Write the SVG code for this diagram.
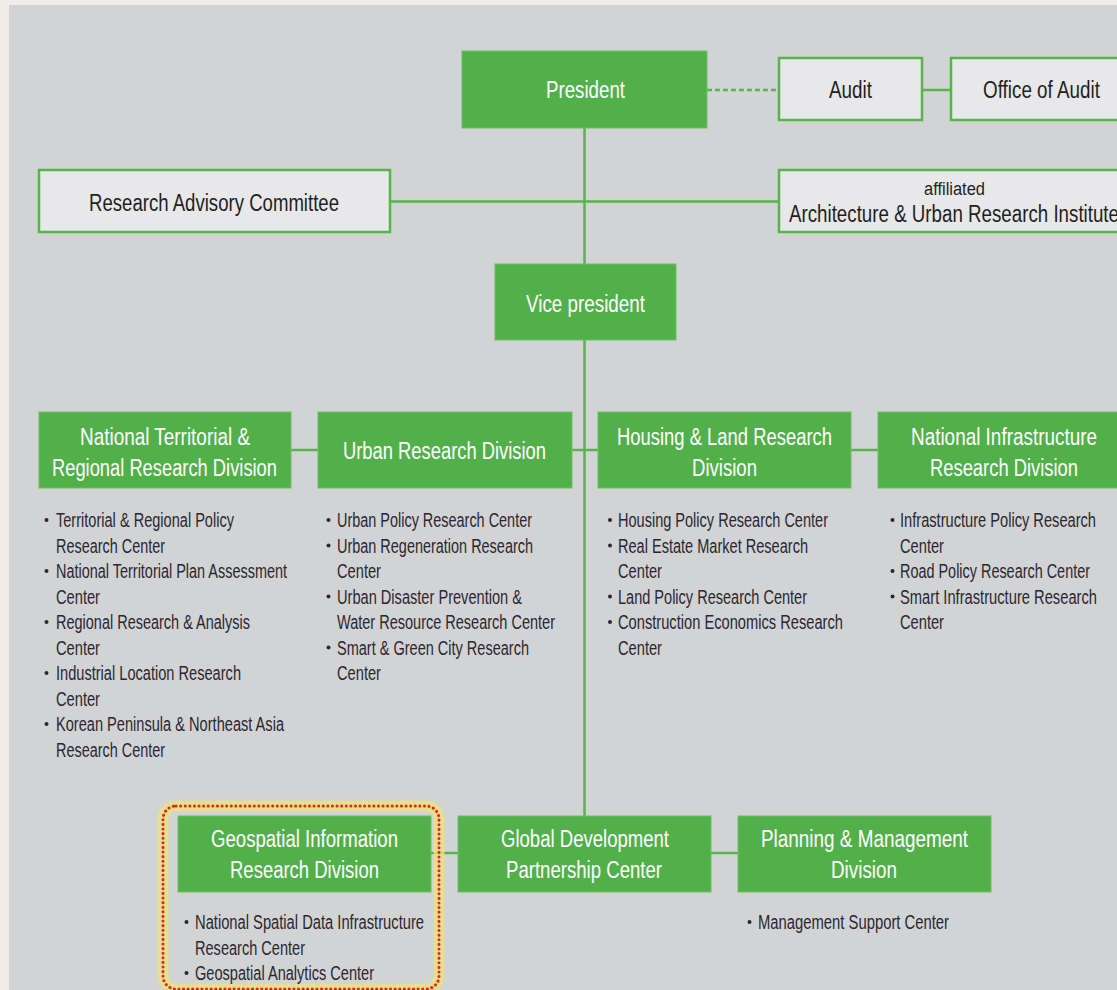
<svg xmlns="http://www.w3.org/2000/svg" width="1117" height="990" viewBox="0 0 1117 990">
<style>
.t{font-family:"Liberation Sans",Arial,sans-serif;}
.gb{fill:#52b04a;stroke:#6fbd66;stroke-width:1;}
.ob{fill:#e8e8ea;stroke:#56b44d;stroke-width:2.5;}
.wt{font-family:"Liberation Sans",Arial,sans-serif;font-size:23.5px;fill:#ffffff;text-anchor:middle;}
.dt{font-family:"Liberation Sans",Arial,sans-serif;font-size:23.5px;fill:#231f20;text-anchor:middle;}
.bt{font-family:"Liberation Sans",Arial,sans-serif;font-size:19.5px;fill:#2b2730;}
.bl{fill:#2b2730;}
.ln{stroke:#56b44d;stroke-width:2.5;fill:none;}
</style>
<rect x="0" y="0" width="1117" height="990" fill="#f0ece8"/>
<rect x="9" y="5" width="1108" height="985" fill="#d2d3d5"/>

<g id="connectors">
<line class="ln" x1="584.5" y1="128" x2="584.5" y2="816"/>
<line class="ln" x1="707" y1="90" x2="779" y2="90" stroke-dasharray="5 3"/>
<line class="ln" x1="922" y1="90" x2="951" y2="90"/>
<line class="ln" x1="390" y1="201.5" x2="779" y2="201.5"/>
<line class="ln" x1="291" y1="450" x2="318" y2="450"/>
<line class="ln" x1="572" y1="450" x2="598" y2="450"/>
<line class="ln" x1="851" y1="450" x2="878" y2="450"/>
<line class="ln" x1="431" y1="853" x2="458" y2="853"/>
<line class="ln" x1="711" y1="853" x2="738" y2="853"/>
</g>

<g id="president">
<rect class="gb" x="462" y="51" width="245" height="77"/>
<text class="wt" x="585.5" y="98" textLength="79" lengthAdjust="spacingAndGlyphs">President</text>
</g>
<g id="audit">
<rect class="ob" x="779" y="58" width="143" height="62"/>
<text class="dt" x="850.5" y="98" textLength="43" lengthAdjust="spacingAndGlyphs">Audit</text>
</g>
<g id="office-of-audit">
<rect class="ob" x="951" y="58" width="180" height="62"/>
<text class="dt" x="1041.5" y="98" textLength="117" lengthAdjust="spacingAndGlyphs">Office of Audit</text>
</g>
<g id="research-advisory-committee">
<rect class="ob" x="39" y="170" width="351" height="62"/>
<text class="dt" x="214" y="211" textLength="250" lengthAdjust="spacingAndGlyphs">Research Advisory Committee</text>
</g>
<g id="affiliated-institute">
<rect class="ob" x="779" y="170" width="360" height="62"/>
<text class="dt" x="954.5" y="195" style="font-size:18px" textLength="61" lengthAdjust="spacingAndGlyphs">affiliated</text>
<text class="t" x="789" y="222" font-size="23.5" fill="#231f20" textLength="330" lengthAdjust="spacingAndGlyphs">Architecture &amp; Urban Research Institute</text>
</g>
<g id="vice-president">
<rect class="gb" x="495" y="264" width="181" height="76"/>
<text class="wt" x="585.5" y="312" textLength="119" lengthAdjust="spacingAndGlyphs">Vice president</text>
</g>

<g id="national-territorial-division">
<rect class="gb" x="39" y="412" width="252" height="76"/>
<text class="wt" x="165" y="445" textLength="170" lengthAdjust="spacingAndGlyphs">National Territorial &amp;</text>
<text class="wt" x="164.5" y="476" textLength="225" lengthAdjust="spacingAndGlyphs">Regional Research Division</text>
<circle class="bl" cx="46.5" cy="520" r="2"/>
<text class="bt" x="56" y="527" textLength="178" lengthAdjust="spacingAndGlyphs">Territorial &amp; Regional Policy</text>
<text class="bt" x="56" y="552.5" textLength="109" lengthAdjust="spacingAndGlyphs">Research Center</text>
<circle class="bl" cx="46.5" cy="571" r="2"/>
<text class="bt" x="56" y="578" textLength="231" lengthAdjust="spacingAndGlyphs">National Territorial Plan Assessment</text>
<text class="bt" x="56" y="603.5" textLength="44" lengthAdjust="spacingAndGlyphs">Center</text>
<circle class="bl" cx="46.5" cy="622" r="2"/>
<text class="bt" x="56" y="629" textLength="194" lengthAdjust="spacingAndGlyphs">Regional Research &amp; Analysis</text>
<text class="bt" x="56" y="654.5" textLength="44" lengthAdjust="spacingAndGlyphs">Center</text>
<circle class="bl" cx="46.5" cy="673" r="2"/>
<text class="bt" x="56" y="680" textLength="185" lengthAdjust="spacingAndGlyphs">Industrial Location Research</text>
<text class="bt" x="56" y="705.5" textLength="44" lengthAdjust="spacingAndGlyphs">Center</text>
<circle class="bl" cx="46.5" cy="724" r="2"/>
<text class="bt" x="56" y="731" textLength="228" lengthAdjust="spacingAndGlyphs">Korean Peninsula &amp; Northeast Asia</text>
<text class="bt" x="56" y="756.5" textLength="109" lengthAdjust="spacingAndGlyphs">Research Center</text>
</g>

<g id="urban-research-division">
<rect class="gb" x="318" y="412" width="254" height="76"/>
<text class="wt" x="444.5" y="459" textLength="203" lengthAdjust="spacingAndGlyphs">Urban Research Division</text>
<circle class="bl" cx="328.5" cy="520" r="2"/>
<text class="bt" x="337" y="527" textLength="195" lengthAdjust="spacingAndGlyphs">Urban Policy Research Center</text>
<circle class="bl" cx="328.5" cy="545.5" r="2"/>
<text class="bt" x="337" y="552.5" textLength="196" lengthAdjust="spacingAndGlyphs">Urban Regeneration Research</text>
<text class="bt" x="337" y="578" textLength="44" lengthAdjust="spacingAndGlyphs">Center</text>
<circle class="bl" cx="328.5" cy="596.5" r="2"/>
<text class="bt" x="337" y="603.5" textLength="185" lengthAdjust="spacingAndGlyphs">Urban Disaster Prevention &amp;</text>
<text class="bt" x="337" y="629" textLength="218" lengthAdjust="spacingAndGlyphs">Water Resource Research Center</text>
<circle class="bl" cx="328.5" cy="647.5" r="2"/>
<text class="bt" x="337" y="654.5" textLength="192" lengthAdjust="spacingAndGlyphs">Smart &amp; Green City Research</text>
<text class="bt" x="337" y="680" textLength="44" lengthAdjust="spacingAndGlyphs">Center</text>
</g>

<g id="housing-land-division">
<rect class="gb" x="598" y="412" width="253" height="76"/>
<text class="wt" x="724.5" y="445" textLength="215" lengthAdjust="spacingAndGlyphs">Housing &amp; Land Research</text>
<text class="wt" x="724.5" y="476" textLength="65" lengthAdjust="spacingAndGlyphs">Division</text>
<circle class="bl" cx="610" cy="520" r="2"/>
<text class="bt" x="618" y="527" textLength="210" lengthAdjust="spacingAndGlyphs">Housing Policy Research Center</text>
<circle class="bl" cx="610" cy="545.5" r="2"/>
<text class="bt" x="618" y="552.5" textLength="190" lengthAdjust="spacingAndGlyphs">Real Estate Market Research</text>
<text class="bt" x="618" y="578" textLength="44" lengthAdjust="spacingAndGlyphs">Center</text>
<circle class="bl" cx="610" cy="596.5" r="2"/>
<text class="bt" x="618" y="603.5" textLength="189" lengthAdjust="spacingAndGlyphs">Land Policy Research Center</text>
<circle class="bl" cx="610" cy="622" r="2"/>
<text class="bt" x="618" y="629" textLength="225" lengthAdjust="spacingAndGlyphs">Construction Economics Research</text>
<text class="bt" x="618" y="654.5" textLength="44" lengthAdjust="spacingAndGlyphs">Center</text>
</g>

<g id="national-infrastructure-division">
<rect class="gb" x="878" y="412" width="260" height="76"/>
<text class="wt" x="1004" y="445" textLength="186" lengthAdjust="spacingAndGlyphs">National Infrastructure</text>
<text class="wt" x="1004" y="476" textLength="148" lengthAdjust="spacingAndGlyphs">Research Division</text>
<circle class="bl" cx="892.5" cy="520" r="2"/>
<text class="bt" x="900" y="527" textLength="196" lengthAdjust="spacingAndGlyphs">Infrastructure Policy Research</text>
<text class="bt" x="900" y="552.5" textLength="44" lengthAdjust="spacingAndGlyphs">Center</text>
<circle class="bl" cx="892.5" cy="571" r="2"/>
<text class="bt" x="900" y="578" textLength="190" lengthAdjust="spacingAndGlyphs">Road Policy Research Center</text>
<circle class="bl" cx="892.5" cy="596.5" r="2"/>
<text class="bt" x="900" y="603.5" textLength="197" lengthAdjust="spacingAndGlyphs">Smart Infrastructure Research</text>
<text class="bt" x="900" y="629" textLength="44" lengthAdjust="spacingAndGlyphs">Center</text>
</g>

<g id="highlight">
<rect x="163" y="806" width="276" height="183" rx="13" fill="none" stroke="#eae27e" stroke-width="11" stroke-opacity="0.8"/>
<rect x="163" y="806" width="276" height="183" rx="13" fill="none" stroke="#e8221c" stroke-width="3" stroke-dasharray="0.1 4.5" stroke-linecap="round"/>
</g>

<g id="geospatial-division">
<rect class="gb" x="178" y="816" width="253" height="76"/>
<text class="wt" x="304.5" y="847" textLength="187" lengthAdjust="spacingAndGlyphs">Geospatial Information</text>
<text class="wt" x="304.5" y="878" textLength="149" lengthAdjust="spacingAndGlyphs">Research Division</text>
<circle class="bl" cx="186.5" cy="922" r="2"/>
<text class="bt" x="195" y="929" textLength="229" lengthAdjust="spacingAndGlyphs">National Spatial Data Infrastructure</text>
<text class="bt" x="195" y="954.5" textLength="110" lengthAdjust="spacingAndGlyphs">Research Center</text>
<circle class="bl" cx="186.5" cy="973" r="2"/>
<text class="bt" x="195" y="980" textLength="179" lengthAdjust="spacingAndGlyphs">Geospatial Analytics Center</text>
</g>

<g id="global-development-center">
<rect class="gb" x="458" y="816" width="253" height="76"/>
<text class="wt" x="585" y="847" textLength="168" lengthAdjust="spacingAndGlyphs">Global Development</text>
<text class="wt" x="584" y="878" textLength="156" lengthAdjust="spacingAndGlyphs">Partnership Center</text>
</g>

<g id="planning-management-division">
<rect class="gb" x="738" y="816" width="253" height="76"/>
<text class="wt" x="864.5" y="847" textLength="207" lengthAdjust="spacingAndGlyphs">Planning &amp; Management</text>
<text class="wt" x="864" y="878" textLength="66" lengthAdjust="spacingAndGlyphs">Division</text>
<circle class="bl" cx="749.5" cy="922" r="2"/>
<text class="bt" x="758" y="929" textLength="191" lengthAdjust="spacingAndGlyphs">Management Support Center</text>
</g>
</svg>
